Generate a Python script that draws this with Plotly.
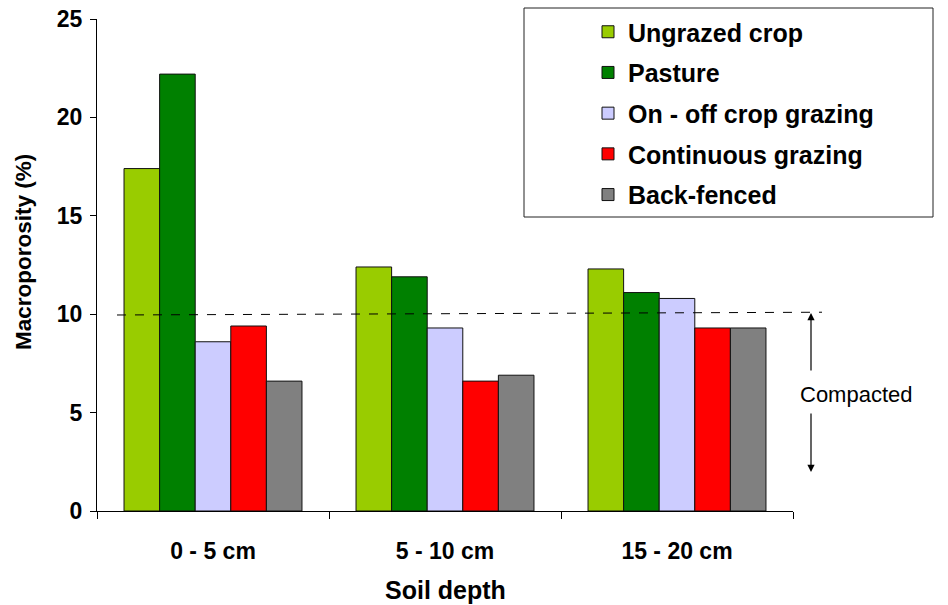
import plotly.graph_objects as go

categories = ["0 - 5 cm", "5 - 10 cm", "15 - 20 cm"]
ungrazed_crop = [17.4, 12.4, 12.3]
pasture = [22.2, 11.9, 11.1]
on_off_crop_grazing = [8.6, 9.3, 10.8]
continuous_grazing = [9.4, 6.6, 9.3]
back_fenced = [6.6, 6.9, 9.3]

series_names = ["Ungrazed crop", "Pasture", "On - off crop grazing", "Continuous grazing", "Back-fenced"]
series_values = [ungrazed_crop, pasture, on_off_crop_grazing, continuous_grazing, back_fenced]
series_colors = ["#99CC00", "#008000", "#CCCCFF", "#FF0000", "#808080"]

compacted_threshold = 10
y_ticks = [0, 5, 10, 15, 20, 25]

fig = go.Figure()
for i, (name, vals, col) in enumerate(zip(series_names, series_values, series_colors)):
    fig.add_trace(go.Bar(
        x=categories, y=vals, name=name, legendgroup=str(i),
        marker=dict(color=col, line=dict(color="#111111", width=1)),
    ))

# plot area in px: x 97..793, y 19..511
L, R, T, B = 97, 793, 19, 511
W, H = R - L, B - T

def px(xp):
    return (xp - L) / W

def py(yp):
    return (B - yp) / H

def dy(yp):
    return (B - yp) / H * 25

fig.update_layout(
    width=948, height=605,
    margin=dict(l=L, r=948 - R, t=T, b=605 - B, pad=0, autoexpand=False),
    paper_bgcolor="white", plot_bgcolor="white",
    barmode="group", bargap=0.233, bargroupgap=0,
    font=dict(family="Liberation Sans, Arial", color="black"),
    showlegend=True,
    legend=dict(
        x=px(588), y=py(9), xanchor="left", yanchor="top",
        bgcolor="rgba(0,0,0,0)", borderwidth=0,
        font=dict(size=25, weight="bold", family="Liberation Sans, Arial", color="black"),
        tracegroupgap=5.2, traceorder="grouped",
    ),
    xaxis=dict(
        type="category", range=[-0.5, 2.5], showgrid=False, zeroline=False,
        showline=True, linecolor="black", linewidth=1,
        ticks="outside", tickson="boundaries", ticklen=7, tickcolor="black",
        tickfont=dict(size=23, weight="bold"), ticklabelstandoff=19,
    ),
    yaxis=dict(
        range=[0, 25], tickvals=y_ticks, showgrid=False, zeroline=False,
        showline=True, linecolor="black", linewidth=1,
        ticks="outside", ticklen=6, tickcolor="black",
        tickfont=dict(size=23, weight="bold"), ticklabelstandoff=3,
    ),
    shapes=[
        dict(type="rect", xref="paper", yref="paper",
             x0=px(524), x1=px(933), y0=py(217), y1=py(8),
             line=dict(color="#222222", width=1), fillcolor="rgba(0,0,0,0)"),
        dict(type="line", xref="paper", yref="y",
             x0=px(117), x1=px(822), y0=compacted_threshold - 0.04, y1=compacted_threshold + 0.1,
             line=dict(color="black", width=1, dash="dash")),
    ],
    annotations=[
        dict(text="Macroporosity (%)", xref="paper", yref="paper", x=px(23), y=py(252),
             xanchor="center", yanchor="middle",
             textangle=-90, showarrow=False, font=dict(size=22.5, weight="bold")),
        dict(text="Soil depth", xref="paper", yref="paper", x=px(446), y=py(590),
             xanchor="center", yanchor="middle",
             showarrow=False, font=dict(size=25, weight="bold")),
        dict(text="Compacted", xref="paper", yref="paper", x=px(856), y=py(395),
             xanchor="center", yanchor="middle",
             showarrow=False, font=dict(size=22)),
        dict(text="", xref="paper", yref="y", x=px(811), y=dy(313),
             ax=0, ay=59, showarrow=True, arrowhead=2, arrowsize=1.2, arrowwidth=1.2, arrowcolor="black"),
        dict(text="", xref="paper", yref="y", x=px(811), y=dy(472),
             ax=0, ay=-60, showarrow=True, arrowhead=2, arrowsize=1.2, arrowwidth=1.2, arrowcolor="black"),
    ],
)

fig.write_html("out.html", config={"displayModeBar": False},
               post_script="document.body.style.margin='0px';")
